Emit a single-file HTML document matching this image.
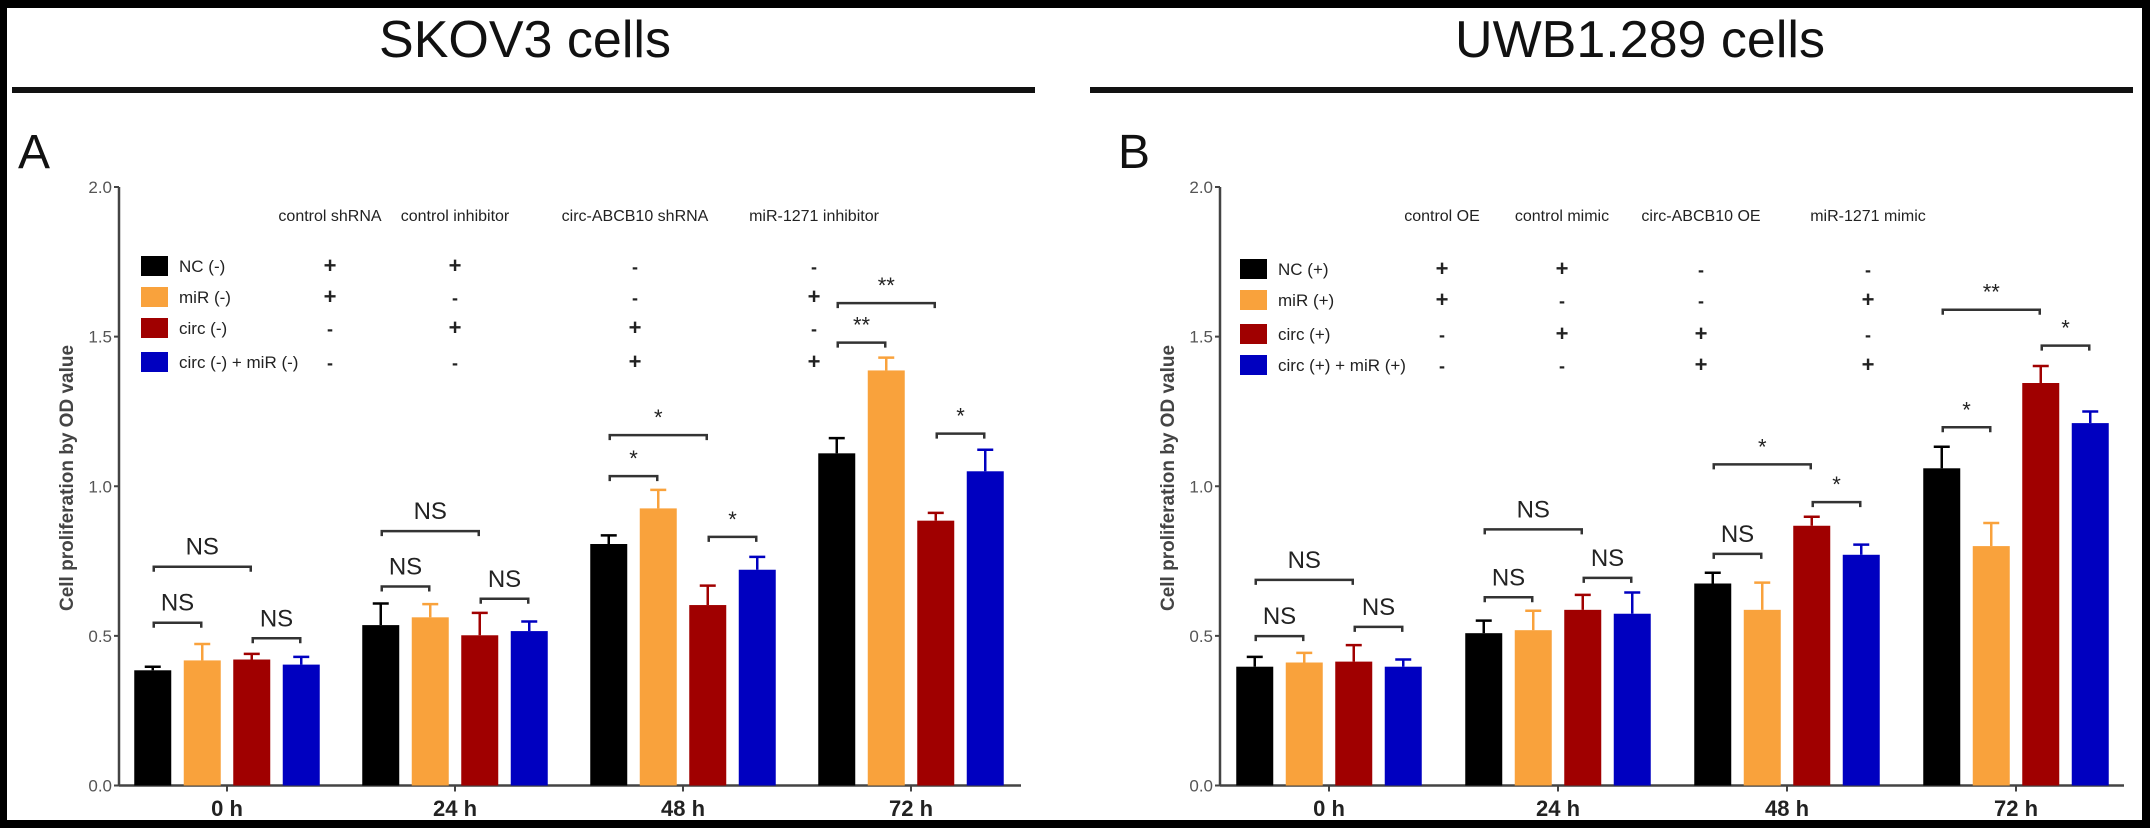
<!DOCTYPE html>
<html><head><meta charset="utf-8">
<style>
html,body{margin:0;padding:0;background:#000;}
#wrap{width:2150px;height:828px;position:relative;background:#000;overflow:hidden;}
svg{position:absolute;left:0;top:0;}
text{font-family:"Liberation Sans",sans-serif;}
</style></head>
<body>
<div id="wrap">
<svg id="fig" width="2150" height="828" viewBox="0 0 2150 828">
  <rect x="7" y="8" width="2135" height="812" fill="#fff"/>
  <text x="525" y="57" font-size="52" text-anchor="middle" fill="#111">SKOV3 cells</text>
  <text x="1640" y="57" font-size="52" text-anchor="middle" fill="#111">UWB1.289 cells</text>
  <rect x="12" y="87" width="1023" height="6" fill="#111"/>
  <rect x="1090" y="87" width="1043" height="6" fill="#111"/>
  <text x="18" y="168" font-size="48" fill="#111">A</text>
  <text x="1118" y="168" font-size="48" fill="#111">B</text>
</svg>
</div>
<script>
// ---- shared data ----
const categories = ["0 h", "24 h", "48 h", "72 h"];
const yTicks = [0.0, 0.5, 1.0, 1.5, 2.0];
const yTickLabels = ["0.0", "0.5", "1.0", "1.5", "2.0"];
const seriesColors = ["#000000", "#f9a23c", "#a00000", "#0000c0"];

// ---- panel A (SKOV3) ----
const seriesNamesA = ["NC (-)", "miR (-)", "circ (-)", "circ (-) + miR (-)"];
const ncA     = [0.385, 0.536, 0.807, 1.110];
const mirA    = [0.418, 0.562, 0.926, 1.387];
const circA   = [0.421, 0.502, 0.603, 0.885];
const bothA   = [0.404, 0.516, 0.721, 1.050];
const ncErrA   = [0.012, 0.072, 0.029, 0.051];
const mirErrA  = [0.055, 0.044, 0.062, 0.043];
const circErrA = [0.019, 0.075, 0.065, 0.026];
const bothErrA = [0.026, 0.032, 0.043, 0.072];
const headersA = ["control shRNA", "control inhibitor", "circ-ABCB10 shRNA", "miR-1271 inhibitor"];
const signsA = [["+","+","-","-"],["+","-","-","+"],["-","+","+","-"],["-","-","+","+"]];
// brackets: [category, fromBar, toBar, level, label]
const bracketsA = [
  [0,0,1,0.544,"NS"],[0,2,3,0.492,"NS"],[0,0,2,0.731,"NS"],
  [1,0,1,0.665,"NS"],[1,2,3,0.624,"NS"],[1,0,2,0.850,"NS"],
  [2,0,1,1.034,"*"],[2,0,2,1.171,"*"],[2,2,3,0.831,"*"],
  [3,0,1,1.480,"**"],[3,0,2,1.612,"**"],[3,2,3,1.176,"*"]
];

// ---- panel B (UWB1.289) ----
const seriesNamesB = ["NC (+)", "miR (+)", "circ (+)", "circ (+) + miR (+)"];
const ncB     = [0.397, 0.509, 0.675, 1.060];
const mirB    = [0.411, 0.519, 0.587, 0.800];
const circB   = [0.414, 0.587, 0.868, 1.345];
const bothB   = [0.397, 0.574, 0.771, 1.211];
const ncErrB   = [0.033, 0.042, 0.036, 0.072];
const mirErrB  = [0.032, 0.065, 0.091, 0.077];
const circErrB = [0.055, 0.050, 0.030, 0.057];
const bothErrB = [0.024, 0.071, 0.034, 0.039];
const headersB = ["control OE", "control mimic", "circ-ABCB10 OE", "miR-1271 mimic"];
const signsB = [["+","+","-","-"],["+","-","-","+"],["-","+","+","-"],["-","-","+","+"]];
const bracketsB = [
  [0,0,1,0.499,"NS"],[0,2,3,0.530,"NS"],[0,0,2,0.687,"NS"],
  [1,0,1,0.629,"NS"],[1,2,3,0.694,"NS"],[1,0,2,0.856,"NS"],
  [2,0,1,0.774,"NS"],[2,2,3,0.947,"*"],[2,0,2,1.073,"*"],
  [3,0,1,1.197,"*"],[3,2,3,1.470,"*"],[3,0,2,1.590,"**"]
];

const NS = "http://www.w3.org/2000/svg";
const svg = document.getElementById("fig");
function mk(tag, attrs, parent) {
  const e = document.createElementNS(NS, tag);
  for (const k in attrs) e.setAttribute(k, attrs[k]);
  (parent || svg).appendChild(e);
  return e;
}

function drawPanel(cfg) {
  const g = mk("g", {});
  
  
  const y0 = 785.5, yTop = 187;
  const yScale = v => y0 - v * (y0 - yTop) / 2.0;
  const xCat = i => cfg.firstCat + i * cfg.catPitch;
  const barW = 37, barPitch = 49.5;
  const barX = (c, s) => xCat(c) + (s - 1.5) * barPitch;

  const ax = mk("line", {x1: cfg.axisX, x2: cfg.axisX, y1: yTop, y2: y0 + 1, stroke: "#444", "stroke-width": 2.5}, g);
  
  
  yTicks.forEach((t, i) => {
    const tk = mk("line", {x1: cfg.axisX - 5, x2: cfg.axisX, y1: yScale(t), y2: yScale(t), stroke: "#444", "stroke-width": 2}, g);
    
    
    const tl = mk("text", {x: cfg.axisX - 7, y: yScale(t) + 6, "font-size": 17, "text-anchor": "end", fill: "#555"}, g);
    tl.textContent = yTickLabels[i];
    
    
  });
  const yt = mk("text", {x: 0, y: 0, "font-size": 19, "font-weight": "bold", fill: "#444", "text-anchor": "middle",
    transform: "translate(" + (cfg.axisX - 46) + "," + 478 + ") rotate(-90)"}, g);
  yt.textContent = "Cell proliferation by OD value";
  
  

  const xa = mk("line", {x1: cfg.axisX, x2: cfg.axisEnd, y1: y0, y2: y0, stroke: "#444", "stroke-width": 2.5}, g);
  
  
  categories.forEach((c, i) => {
    const tk = mk("line", {x1: xCat(i), x2: xCat(i), y1: y0, y2: y0 + 6, stroke: "#444", "stroke-width": 2}, g);
    
    
    const tl = mk("text", {x: xCat(i), y: 816, "font-size": 22, "font-weight": "bold", "text-anchor": "middle", fill: "#222"}, g);
    tl.textContent = c;
    
    
  });

  cfg.series.forEach((vals, s) => {
    vals.forEach((v, c) => {
      const cx = barX(c, s);
      const top = yScale(v);
      const e = cfg.errs[s][c];
      const el = mk("line", {x1: cx, x2: cx, y1: top, y2: yScale(v + e), stroke: seriesColors[s], "stroke-width": 2.5}, g);
      
      
      const cap = mk("line", {x1: cx - 8, x2: cx + 8, y1: yScale(v + e), y2: yScale(v + e), stroke: seriesColors[s], "stroke-width": 2.5}, g);
      
      
      const r = mk("rect", {x: cx - barW / 2, y: top, width: barW, height: y0 - top, fill: seriesColors[s]}, g);
      
      
    });
  });

  cfg.brackets.forEach(b => {
    const xa1 = barX(b[0], b[1]) + 1, xa2 = barX(b[0], b[2]) - 1;
    const yy = yScale(b[3]);
    const p = mk("path", {d: "M" + xa1 + "," + (yy + 5) + "V" + yy + "H" + xa2 + "V" + (yy + 5), fill: "none", stroke: "#333", "stroke-width": 2.5}, g);
    
    
    const isNS = b[4] === "NS";
    const t = mk("text", {x: (xa1 + xa2) / 2, y: yy - (isNS ? 12 : 10), "font-size": isNS ? 24 : 22, "text-anchor": "middle", fill: "#222"}, g);
    t.textContent = b[4];
    
    
  });

  cfg.headers.forEach((h, i) => {
    const t = mk("text", {x: cfg.cols[i], y: 221, "font-size": 16, "text-anchor": "middle", fill: "#222"}, g);
    t.textContent = h;
    
    
  });
  cfg.seriesNames.forEach((n, s) => {
    const ry = cfg.rows[s];
    const sq = mk("rect", {x: cfg.legX, y: ry - 10, width: 27, height: 20, fill: seriesColors[s]}, g);
    
    
    const t = mk("text", {x: cfg.legX + 38, y: ry + 6, "font-size": 17, fill: "#222"}, g);
    t.textContent = n;
    
    
    cfg.signs[s].forEach((sg, i) => {
      const st = mk("text", {x: cfg.cols[i], y: ry + 7, "font-size": sg === "+" ? 22 : 18, "font-weight": "bold", "text-anchor": "middle", fill: "#222"}, g);
      st.textContent = sg;
      
      
    });
  });
}

drawPanel({name: "skov3-chart", short: "a", axisX: 119, axisEnd: 1021, firstCat: 227, catPitch: 228,
  series: [ncA, mirA, circA, bothA], errs: [ncErrA, mirErrA, circErrA, bothErrA],
  brackets: bracketsA, headers: headersA, signs: signsA, seriesNames: seriesNamesA,
  cols: [330, 455, 635, 814], rows: [266, 297, 328, 362], legX: 141});
drawPanel({name: "uwb-chart", short: "b", axisX: 1220, axisEnd: 2124, firstCat: 1329, catPitch: 229,
  series: [ncB, mirB, circB, bothB], errs: [ncErrB, mirErrB, circErrB, bothErrB],
  brackets: bracketsB, headers: headersB, signs: signsB, seriesNames: seriesNamesB,
  cols: [1442, 1562, 1701, 1868], rows: [269, 300, 334, 365], legX: 1240});
</script>
</body></html>
